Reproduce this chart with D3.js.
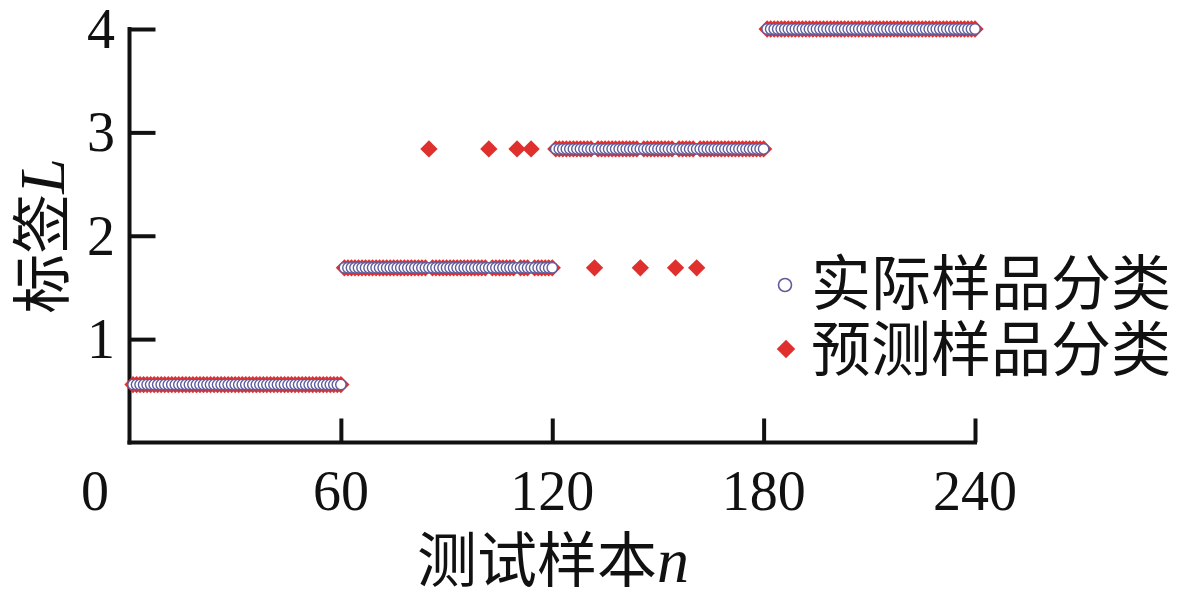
<!DOCTYPE html>
<html><head><meta charset="utf-8">
<script src="https://cdn.jsdelivr.net/npm/d3@7"></script>
<style>body{margin:0;background:#fff}</style>
</head><body>
<svg id="c" width="1182" height="593"></svg>
<script>
// ---- data ----
const classLevels = [0.56, 1.69, 2.84, 4.0];      // label value of each class
const samplesPerClass = [60, 60, 60, 60];        // test samples per class
const wrongN = [85, 102, 110, 114, 132, 145, 155, 161]; // misclassified samples
const wrongPred = [2.84, 2.84, 2.84, 2.84, 1.69, 1.69, 1.69, 1.69]; // their predicted label
const xTicks = [60, 120, 180, 240];
const yTicks = [1, 2, 3, 4];
const legendLabels = ["实际样品分类", "预测样品分类"];

// build actual / predicted series
const actual = [];
let idx = 1;
classLevels.forEach((lv, k) => {
  for (let i = 0; i < samplesPerClass[k]; i++) actual.push({n: idx++, v: lv});
});
const predicted = actual.map(d => {
  const w = wrongN.indexOf(d.n);
  return {n: d.n, v: w >= 0 ? wrongPred[w] : d.v};
});

const svg = d3.select("#c");
const x = d3.scaleLinear().domain([0, 240]).range([129.5, 975]);
const y = d3.scaleLinear().domain([0, 4]).range([442.5, 29]);
const serif = "'Liberation Serif','Times New Roman',serif";
const cjk = "'Noto Sans CJK SC','Noto Sans CJK JP',sans-serif";
const red = "#e0302e", blue = "#5e5c9c";

// axes
const gx = svg.append("g").attr("transform", `translate(0,${y(0)})`)
  .call(d3.axisBottom(x).tickValues(xTicks).tickSizeInner(-24).tickSizeOuter(0).tickFormat(""));
const gy = svg.append("g").attr("transform", `translate(${x(0)},0)`)
  .call(d3.axisLeft(y).tickValues(yTicks).tickSizeInner(-26).tickSizeOuter(0).tickFormat(""));
[gx, gy].forEach(g => {
  g.select(".domain").attr("stroke", "#111").attr("stroke-width", 4);
  g.selectAll(".tick line").attr("stroke", "#111").attr("stroke-width", 4);
});
gx.select(".domain").attr("d", `M${x(0)-2},0H${x(240)+2}`);
gy.select(".domain").attr("d", `M0,${y(0)+2}V${y(4)-2}`);

// tick labels
svg.append("g").selectAll("text").data([0].concat(xTicks)).join("text")
  .attr("x", d => d === 0 ? 95 : x(d)).attr("y", 510)
  .attr("text-anchor", "middle").attr("font-family", serif).attr("font-size", 56)
  .attr("fill", "#111").text(d => d);
svg.append("g").selectAll("text").data(yTicks).join("text")
  .attr("x", 115).attr("y", d => y(d) + 19)
  .attr("text-anchor", "end").attr("font-family", serif).attr("font-size", 56)
  .attr("fill", "#111").text(d => d);

// axis titles
const xt = svg.append("text").attr("x", 553).attr("y", 582).attr("text-anchor", "middle")
  .attr("font-size", 60).attr("fill", "#111");
xt.append("tspan").attr("font-family", cjk).text("测试样本");
xt.append("tspan").attr("font-family", serif).attr("font-style", "italic").attr("font-size", 64).text("n");
const yt = svg.append("text").attr("transform", "translate(64,236) rotate(-90)")
  .attr("text-anchor", "middle").attr("font-size", 60).attr("fill", "#111");
yt.append("tspan").attr("font-family", cjk).text("标签");
yt.append("tspan").attr("font-family", serif).attr("font-style", "italic").attr("font-size", 64).text("L");

// marks
const diamond = d3.symbol().type(d3.symbolSquare).size(150);
svg.append("g").selectAll("path").data(predicted).join("path")
  .attr("d", diamond).attr("transform", d => `translate(${x(d.n)},${y(d.v)}) rotate(45)`)
  .attr("fill", red);
svg.append("g").selectAll("circle").data(actual).join("circle")
  .attr("cx", d => x(d.n)).attr("cy", d => y(d.v)).attr("r", 5.2)
  .attr("fill", "#fff").attr("stroke", blue).attr("stroke-width", 1.4);

// legend
const lg = svg.append("g");
lg.append("circle").attr("cx", 785).attr("cy", 285).attr("r", 6.5)
  .attr("fill", "#fff").attr("stroke", blue).attr("stroke-width", 1.6);
lg.append("path").attr("d", d3.symbol().type(d3.symbolSquare).size(170)())
  .attr("transform", "translate(786,349) rotate(45)").attr("fill", red);
lg.selectAll("text").data(legendLabels).join("text")
  .attr("x", 811).attr("y", (d, i) => 305 + i * 66)
  .attr("font-family", cjk).attr("font-size", 60).attr("fill", "#111").text(d => d);
</script>
</body></html>
